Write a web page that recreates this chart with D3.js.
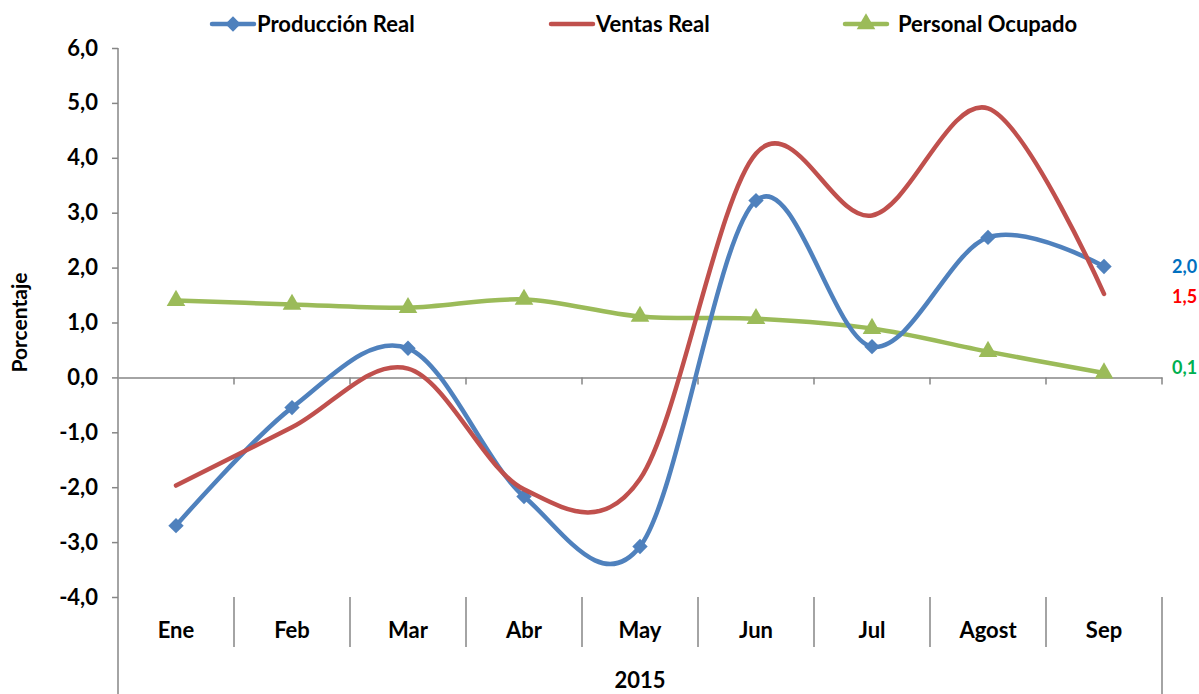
<!DOCTYPE html>
<html>
<head>
<meta charset="utf-8">
<script src="https://cdn.jsdelivr.net/npm/d3@7"></script>
<style>
  body { margin: 0; background: #fff; }
  text { font-family: Lato, "Open Sans", sans-serif; font-weight: bold; fill: #000; }
</style>
</head>
<body>
<div id="chart"></div>
<script>
// data
var months = ["Ene", "Feb", "Mar", "Abr", "May", "Jun", "Jul", "Agost", "Sep"];
var produccion = [-2.70, -0.55, 0.53, -2.17, -3.08, 3.22, 0.56, 2.55, 2.02];
var ventas = [-1.97, -0.91, 0.16, -2.04, -1.85, 4.08, 2.95, 4.90, 1.52];
var personal = [1.40, 1.33, 1.27, 1.42, 1.11, 1.07, 0.89, 0.47, 0.08];
var yTicks = [-4, -3, -2, -1, 0, 1, 2, 3, 4, 5, 6];
var yearLabel = "2015";
var lastLabels = ["2,0", "1,5", "0,1"];

var width = 1199, height = 694;
var margin = { left: 118, right: 37, top: 48, bottom: 97 };
var axisColor = "#868686";

var svg = d3.select("#chart")
  .append("svg")
    .attr("width", width)
    .attr("height", height);

// scales
var x = d3.scaleBand()
  .domain(months)
  .range([margin.left, width - margin.right])
  .padding(0);

var y = d3.scaleLinear()
  .domain([-4, 6])
  .range([height - margin.bottom, margin.top]);

var fmt = function(d) { return d3.format(".1f")(d).replace(".", ",").replace("−", "-"); };

// Y axis
var yAxis = d3.axisLeft(y)
  .tickValues(yTicks)
  .tickSize(6)
  .tickPadding(14)
  .tickFormat(fmt);

var yAxisGroup = svg.append("g")
  .attr("transform", "translate(" + margin.left + ",0)")
  .call(yAxis);
yAxisGroup.select(".domain").remove();
yAxisGroup.selectAll(".tick line").attr("stroke", axisColor).attr("stroke-width", 1.5);
yAxisGroup.selectAll(".tick text")
  .style("font-size", "22px")
  .style("font-family", "Lato, 'Open Sans', sans-serif")
  .style("font-weight", "bold")
  .attr("fill", "#000");

// y axis line runs down past the category labels
svg.append("line")
  .attr("x1", margin.left).attr("x2", margin.left)
  .attr("y1", margin.top).attr("y2", height)
  .attr("stroke", axisColor).attr("stroke-width", 1.5);

// zero line with category ticks
var xAxis = d3.axisBottom(x).tickSize(0).tickFormat("");
var xAxisGroup = svg.append("g")
  .attr("transform", "translate(0," + y(0) + ")")
  .call(xAxis);
xAxisGroup.select(".domain").attr("stroke", axisColor).attr("stroke-width", 1.5);

var bounds = months.map(function(m) { return x(m); }).concat([x(months[months.length - 1]) + x.bandwidth()]);

xAxisGroup.selectAll(".sep-tick")
  .data(bounds.slice(1))
  .enter().append("line")
    .attr("x1", function(d) { return d; })
    .attr("x2", function(d) { return d; })
    .attr("y1", 0).attr("y2", 7)
    .attr("stroke", axisColor).attr("stroke-width", 1.5);

// category separators below the plot
var sepTop = y(-4);
svg.selectAll(".sep")
  .data(bounds.slice(1))
  .enter().append("line")
    .attr("class", "sep")
    .attr("x1", function(d) { return d; })
    .attr("x2", function(d) { return d; })
    .attr("y1", sepTop)
    .attr("y2", function(d, i) { return i == bounds.length - 2 ? height : sepTop + 50; })
    .attr("stroke", axisColor).attr("stroke-width", 1.5);

// category labels
svg.selectAll(".cat")
  .data(months)
  .enter().append("text")
    .attr("class", "cat")
    .attr("x", function(d) { return x(d) + x.bandwidth() / 2; })
    .attr("y", 638)
    .attr("text-anchor", "middle")
    .style("font-size", "22px")
    .text(function(d) { return d; });

svg.append("text")
  .attr("x", (margin.left + width - margin.right) / 2)
  .attr("y", 688)
  .attr("text-anchor", "middle")
  .style("font-size", "22px")
  .text(yearLabel);

// y title
svg.append("text")
  .attr("transform", "translate(20," + ((y(6) + y(-4)) / 2) + ") rotate(-90)")
  .attr("text-anchor", "middle")
  .attr("dy", "0.35em")
  .style("font-size", "21px")
  .text("Porcentaje");

// lines
var line = d3.line()
  .x(function(d, i) { return x(months[i]) + x.bandwidth() / 2; })
  .y(function(d) { return y(d); })
  .curve(d3.curveCatmullRom.alpha(0));

var series = [
  { name: "Producción Real", values: produccion, color: "#4F81BD", marker: "diamond" },
  { name: "Ventas Real", values: ventas, color: "#C0504D", marker: null },
  { name: "Personal Ocupado", values: personal, color: "#9BBB59", marker: "triangle" }
];

// excel style markers: square turned 45 degrees, and a triangle
var markerPath = function(type) {
  return type == "diamond"
    ? d3.symbol().type(d3.symbolSquare).size(118)()
    : d3.symbol().type(d3.symbolTriangle).size(150)();
};
var markerRot = function(type) { return type == "diamond" ? " rotate(45)" : ""; };

var drawOrder = [series[2], series[0], series[1]];
drawOrder.forEach(function(s) {
  svg.append("path")
    .datum(s.values)
    .attr("d", line)
    .attr("fill", "none")
    .attr("stroke", s.color)
    .attr("stroke-width", 4.5)
    .attr("stroke-linecap", "round");

  if (s.marker) {
    svg.selectAll(null)
      .data(s.values)
      .enter().append("path")
        .attr("d", markerPath(s.marker))
        .attr("transform", function(d, i) {
          return "translate(" + (x(months[i]) + x.bandwidth() / 2) + "," + y(d) + ")" + markerRot(s.marker);
        })
        .attr("fill", s.color);
  }
});

// end value labels
var labelColors = ["#0070C0", "#FF0000", "#00B050"];
var labelValues = [produccion[8], ventas[8], personal[8]];
var labelNudge = [0, 3, -5];
svg.selectAll(".endlbl")
  .data(lastLabels)
  .enter().append("text")
    .attr("class", "endlbl")
    .attr("x", 1172)
    .attr("y", function(d, i) { return y(labelValues[i]) + labelNudge[i]; })
    .attr("dy", "0.35em")
    .style("font-size", "18px")
    .style("fill", function(d, i) { return labelColors[i]; })
    .text(function(d) { return d; });

// legend
var legendX = [212, 551, 845];
var legendY = 24;
series.forEach(function(s, i) {
  var g = svg.append("g").attr("transform", "translate(" + legendX[i] + "," + legendY + ")");
  g.append("line")
    .attr("x1", 0).attr("x2", 42)
    .attr("stroke", s.color).attr("stroke-width", 4.5)
    .attr("stroke-linecap", "round");
  if (s.marker) {
    g.append("path")
      .attr("d", markerPath(s.marker))
      .attr("transform", "translate(21,0)" + markerRot(s.marker))
      .attr("fill", s.color);
  }
  g.append("text")
    .attr("x", i == 2 ? 53 : 45)
    .attr("dy", "0.35em")
    .style("font-size", "22px")
    .text(s.name);
});
</script>
</body>
</html>
